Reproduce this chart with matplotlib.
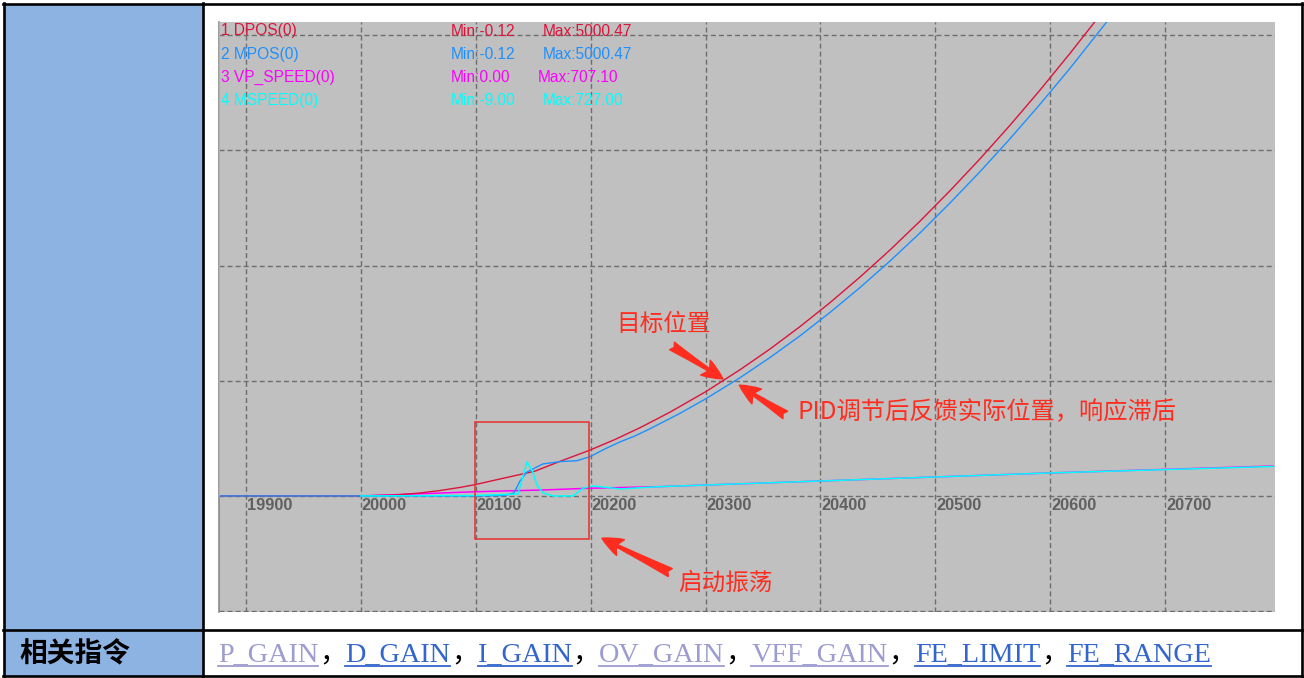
import matplotlib
matplotlib.use('Agg')
import numpy as np
import matplotlib.pyplot as plt
from matplotlib.lines import Line2D
from matplotlib.patches import Rectangle

# data (x: time axis, y: 100 per grid division)
dpos_x = [19876.5, 20000, 20029.7, 20051.4, 20068.8, 20086.2, 20099.3, 20125.4,
          20151.5, 20173.2, 20199.4, 20221.1, 20242.9, 20269.0, 20300.3, 20329.9,
          20356.0, 20382.2, 20408.3, 20434.4, 20460.5, 20486.6, 20512.6, 20538.7,
          20564.8, 20590.9, 20617.0, 20641.5]
dpos_y = [0, 0, 0.8, 2.6, 4.7, 7.4, 9.8, 15.7, 21.5, 30.0, 39.8, 49.0, 59.2, 72.7,
          90.6, 109.5, 127.5, 147.0, 167.8, 190.0, 213.5, 238.5, 264.8, 292.5,
          321.6, 352.1, 384.0, 415.0]

mpos_x = [19876.5, 20100.2, 20125.4, 20133.2, 20138.5, 20144.6, 20151.5, 20158.5,
          20173.3, 20188.1, 20199.4, 20212.4, 20225.5, 20238.6, 20251.6, 20277.7,
          20300.3, 20329.9, 20356.0, 20382.2, 20408.3, 20434.4, 20460.5, 20486.6,
          20512.6, 20538.7, 20564.8, 20590.9, 20617.0, 20651.9]
mpos_y = [0, 0, 0.4, 2.6, 13.0, 20.8, 24.3, 27.8, 29.8, 30.6, 34.1, 40.8, 46.9,
          52.1, 58.3, 71.7, 84.4, 102.6, 120.1, 139.0, 159.3, 180.9, 203.9, 228.3,
          254.2, 281.3, 309.9, 339.8, 371.0, 415.0]

vp_x = [20000, 20029.7, 20101.0, 20158.5, 20199.4, 20260.3, 20600.6, 20793.8]
vp_y = [0, 1.1, 3.7, 5.2, 6.7, 8.1, 20.0, 26.0]

# MSPEED: short spike at the left border, then the start-up oscillation
ms_x = [19876.7, 19876.7, np.nan, 20000, 20100, 20136.7, 20140.2, 20144.6, 20148.9,
        20153.3, 20158.5, 20167.2, 20184.6, 20193.3, 20202.0, 20225.5, 20260.3,
        20600.6, 20793.8]
ms_y = [450, 0, np.nan, 0, 0.4, 1.7, 13.9, 29.5, 22.6, 9.5, 2.6, 0, 0, 6.7, 8.7,
        6.1, 8.1, 20.0, 25.6]

x_ticks = [19900, 20000, 20100, 20200, 20300, 20400, 20500, 20600, 20700]
y_ticks = [-100, 0, 100, 200, 300, 400]

names = ['1 DPOS(0)', '2 MPOS(0)', '3 VP_SPEED(0)', '4 MSPEED(0)']
mins = ['Min:-0.12', 'Min:-0.12', 'Min:0.00', 'Min:-9.00']
maxs = ['Max:5000.47', 'Max:5000.47', 'Max:707.10', 'Max:727.00']
colors = ['#DC143C', '#1E90FF', '#FF00FF', '#00FFFF']

links = ['P_GAIN', 'D_GAIN', 'I_GAIN', 'OV_GAIN', 'VFF_GAIN', 'FE_LIMIT', 'FE_RANGE']
link_colors = ['#9C9CD0', '#3366CC', '#3366CC', '#9C9CD0', '#9C9CD0', '#3366CC', '#3366CC']

W, H = 1304, 678
def fx(x):
    return x / W
def fy(y):
    return 1 - y / H

fig = plt.figure(figsize=(W / 100, H / 100), dpi=100)
fig.patch.set_facecolor('white')

# table: blue first column, black borders
fig.add_artist(Rectangle((fx(4), fy(676)), fx(203.5) - fx(4), fy(4) - fy(676),
                         transform=fig.transFigure, facecolor='#8DB3E2',
                         edgecolor='none', zorder=0))
lw_tab = 1.9
for (x0, y0, x1, y1) in [(3, 4, 1302, 4), (3, 676, 1302, 676), (4, 3, 4, 677),
                         (1302, 3, 1302, 677), (203.5, 3, 203.5, 677),
                         (3, 630, 1302, 630)]:
    fig.add_artist(Line2D([fx(x0), fx(x1)], [fy(y0), fy(y1)], transform=fig.transFigure,
                          color='black', lw=lw_tab, solid_capstyle='projecting'))

# scope chart
ax = fig.add_axes([fx(218.5), fy(612.3), fx(1275) - fx(218.5), fy(21.7) - fy(612.3)])
ax.set_facecolor('#C0C0C0')
ax.set_xlim(19876.1, 20795.6)
ax.set_ylim(-101, 411.7)
ax.set_xticks(x_ticks)
ax.set_yticks(y_ticks)
ax.tick_params(length=0, labelbottom=False, labelleft=False)
for s in ['top', 'right', 'bottom']:
    ax.spines[s].set_visible(False)
ax.spines['left'].set_color('#8A8A8A')
ax.spines['left'].set_linewidth(1.2)
ax.grid(True, color='#6E6E6E', lw=1.0, linestyle=(0, (3.6, 2.2)))
ax.set_axisbelow(True)

for t in x_ticks:
    ax.text(t + 0.8, -1.5, str(t), ha='left', va='top', color='#606060',
            fontsize=11.8, fontweight='bold', family='Liberation Sans')

ax.plot(vp_x, vp_y, color=colors[2], lw=1.1, zorder=3)
ax.plot(dpos_x, dpos_y, color=colors[0], lw=1.0, zorder=4)
ax.plot(mpos_x, mpos_y, color=colors[1], lw=1.0, zorder=5)
ax.plot(ms_x, ms_y, color=colors[3], lw=1.1, zorder=6)

# channel list
for i in range(4):
    yy = 31 + i * 23.3
    fig.text(fx(221), fy(yy), names[i], color=colors[i], fontsize=11.2,
             family='Liberation Sans', va='center', ha='left')
    fig.text(fx(451), fy(yy), mins[i], color=colors[i], fontsize=11.2,
             family='Liberation Sans', va='center', ha='left')
    fig.text(fx(543 if i != 2 else 538), fy(yy), maxs[i], color=colors[i],
             fontsize=11.2, family='Liberation Sans', va='center', ha='left')

# annotations
red = '#FF2D20'
cjk = ['Noto Sans CJK SC', 'DejaVu Sans']
ax.add_patch(Rectangle((20099.3, -37.3), 20198.5 - 20099.3, 64.2 + 37.3,
                       fill=False, edgecolor='#E8302A', lw=1.1, zorder=7))
arrow = dict(arrowstyle='fancy,head_length=0.65,head_width=0.55,tail_width=0.28',
             color=red, shrinkA=0, shrinkB=0, mutation_scale=23)
ax.annotate('', xy=(20315.1, 101.6), xytext=(20270.8, 130.2), arrowprops=arrow, zorder=8)
ax.annotate('', xy=(20329.4, 96.2), xytext=(20369.4, 70.3), arrowprops=arrow, zorder=8)
ax.annotate('', xy=(20209.8, -36.7), xytext=(20269.3, -66.5), arrowprops=arrow, zorder=8)
ax.text(20263.0, 149.3, '目标位置', color=red, fontsize=17, family=cjk,
        ha='center', va='center', zorder=9)
ax.text(20380.0, 73.0, 'PID调节后反馈实际位置，响应滞后', color=red, fontsize=17.5,
        family=cjk, ha='left', va='center', zorder=9)
ax.text(20317.0, -75.5, '启动振荡', color=red, fontsize=17, family=cjk,
        ha='center', va='center', zorder=9)

# second table row
fig.text(fx(19), fy(654), '相关指令', fontsize=20, fontweight='bold', family=cjk,
         color='black', ha='left', va='center')

fig.canvas.draw()
renderer = fig.canvas.get_renderer()
x = 218
for i, word in enumerate(links):
    t = fig.text(fx(x), fy(662), word, fontsize=20.3, family='Liberation Serif',
                 color=link_colors[i], ha='left', va='baseline')
    bb = t.get_window_extent(renderer)
    x_end = x + bb.width
    fig.add_artist(Line2D([fx(x), fx(x_end)], [fy(665.5), fy(665.5)],
                          transform=fig.transFigure, color=link_colors[i], lw=1.3))
    if i < len(links) - 1:
        fig.text(fx(x_end + 1), fy(662), '，', fontsize=20, family=cjk,
                 color='black', ha='left', va='baseline')
        x = x_end + 27.2

fig.savefig('out.png', dpi=100)
